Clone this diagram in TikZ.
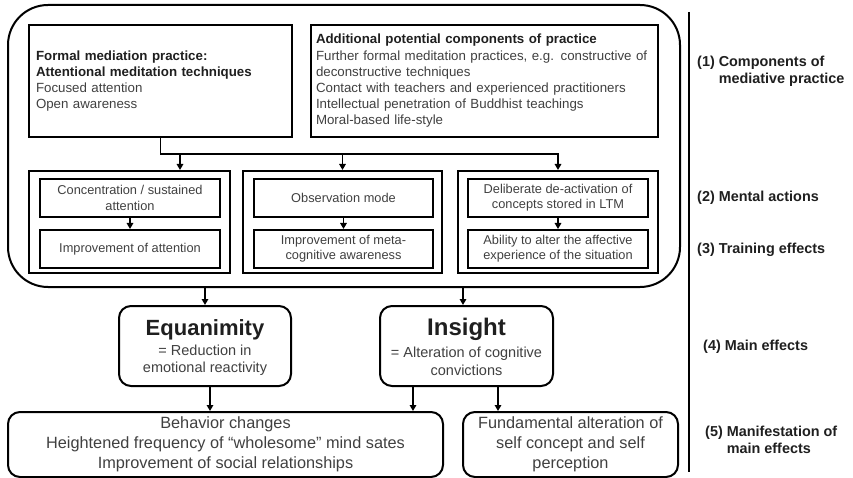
\documentclass[tikz,border=0pt]{standalone}
\usepackage{fontspec}
\setmainfont{Liberation Sans}
\usetikzlibrary{arrows.meta}

\definecolor{ink}{gray}{0.25}
\definecolor{inkdark}{gray}{0.12}
\newcommand\fsmain{\fontsize{13.3}{16.2}\selectfont}
\newcommand\fssmall{\fontsize{12.8}{15.3}\selectfont}
\newcommand\fsside{\fontsize{14.4}{17}\selectfont\bfseries}

\begin{document}
\begin{tikzpicture}[x=1pt,y=-1pt,
  box/.style={draw=black, line width=2pt, rectangle, inner sep=0pt, align=center, text=ink},
  rbox/.style={box, rounded corners=12pt},
  arr/.style={line width=1.6pt, -{Triangle[length=6pt,width=6.5pt]}},
  title/.style={font=\fontsize{22}{24}\selectfont\bfseries, text=inkdark, inner sep=0pt},
  sub/.style={font=\fontsize{14.5}{17.5}\selectfont, text=ink, align=center, inner sep=0pt},
  side/.style={font=\fsside, text=inkdark, anchor=west, inner sep=0pt}
]
\useasboundingbox (0,0) rectangle (853,478);

% frame around the practice components, mental actions and training effects
\node[draw=black, line width=2pt, rounded corners=40pt, minimum width=672, minimum height=282, inner sep=0pt] (frame) at (344,146) {};

% (1) components of practice
\node[box, minimum width=263, minimum height=112, text width=249, align=left, font=\fsmain] (f1) at (160.5,81)
  {\textcolor{inkdark}{\bfseries Formal mediation practice:}\\
   \textcolor{inkdark}{\bfseries Attentional meditation techniques}\\
   Focused attention\\
   Open awareness};
\node[box, minimum width=347, minimum height=112, text width=337, align=left, font=\fsmain] (f2) at (484.5,81)
  {\textcolor{inkdark}{\bfseries Additional potential components of practice}\\
   Further formal meditation practices, e.g. constructive of\\
   deconstructive techniques\\
   Contact with teachers and experienced practitioners\\
   Intellectual penetration of Buddhist teachings\\
   Moral-based life-style};

% (2)/(3) columns
\node[box, minimum width=201, minimum height=102] (mA) at (129.5,222) {};
\node[box, minimum width=199, minimum height=102] (mB) at (342.5,222) {};
\node[box, minimum width=200, minimum height=102] (mC) at (558,222) {};

\node[box, minimum width=180, minimum height=38, font=\fssmall] (a1) at (130,198) {Concentration / sustained\\attention};
\node[box, minimum width=180, minimum height=38, font=\fssmall] (a2) at (130,249) {Improvement of attention};
\node[box, minimum width=179, minimum height=38, font=\fssmall] (b1) at (343.5,198) {Observation mode};
\node[box, minimum width=179, minimum height=38, font=\fssmall] (b2) at (343.5,249) {Improvement of meta-\\cognitive awareness};
\node[box, minimum width=180, minimum height=38, font=\fssmall] (c1) at (558,198) {Deliberate de-activation of\\concepts stored in LTM};
\node[box, minimum width=180, minimum height=38, font=\fssmall] (c2) at (558,249) {Ability to alter the affective\\experience of the situation};

\draw[arr] (a1) -- (a2);
\draw[arr] (b1) -- (b2);
\draw[arr] (c1) -- (c2);

% distribution rail from the formal practice box
\coordinate (rail) at (0,154);
\coordinate (tapA) at (180,154);
\draw[arr] (f1.south) |- (mC.north |- rail) -- (mC.north);
\draw[arr] (tapA) -- (tapA |- mA.north);
\draw[arr] (mB.north |- rail) -- (mB.north);

% (4) main effects
\node[rbox, minimum width=172, minimum height=80] (eq) at (205,346) {};
\node[title] (eqT) at (205,330) {Equanimity};
\node[sub] (eqS) at (205,360) {= Reduction in\\emotional reactivity};

\node[rbox, minimum width=173, minimum height=80] (ins) at (466.5,346) {};
\node[title, font=\fontsize{24}{26}\selectfont\bfseries] (insT) at (466.5,329) {Insight};
\node[sub] (insS) at (466.5,361.5) {= Alteration of cognitive\\convictions};

\draw[arr] (eq.north |- frame.south) -- (eq.north);
\draw[arr] ([xshift=-3.5pt]ins.north |- frame.south) -- ([xshift=-3.5pt]ins.north);

% (5) manifestation of main effects
\node[rbox, minimum width=435, minimum height=65, font=\fontsize{16.3}{20}\selectfont] (bl) at (225.5,444.5)
  {Behavior changes\\Heightened frequency of “wholesome” mind sates\\Improvement of social relationships};
\node[rbox, minimum width=215, minimum height=65, font=\fontsize{16.3}{20}\selectfont] (br) at (570.5,444.5)
  {Fundamental alteration of\\self concept and self\\perception};

\draw[arr] ([xshift=5pt]eq.south) -- ([xshift=5pt]eq.south |- bl.north);
\draw[arr] ([xshift=-53.5pt]ins.south) -- ([xshift=-53.5pt]ins.south |- bl.north);
\draw[arr] ([xshift=31.5pt]ins.south) -- ([xshift=31.5pt]ins.south |- br.north);

% level captions
\coordinate (divtop) at (689,12);
\coordinate (divbot) at (689,472);
\draw[line width=2pt] (divtop) -- (divbot);

\node[side] (l1) at (697,71.5) {\begin{tabular}{@{}l@{ }l@{}}(1) & Components of\\ & mediative practice\end{tabular}};
\node[side] (l2) at (697,198) {(2) Mental actions};
\node[side] (l3) at (697,250) {(3) Training effects};
\node[side] (l4) at (703,347) {(4) Main effects};
\node[side] (l5) at (705,441.5) {\begin{tabular}{@{}l@{ }l@{}}(5) & Manifestation of\\ & main effects\end{tabular}};
\end{tikzpicture}
\end{document}
